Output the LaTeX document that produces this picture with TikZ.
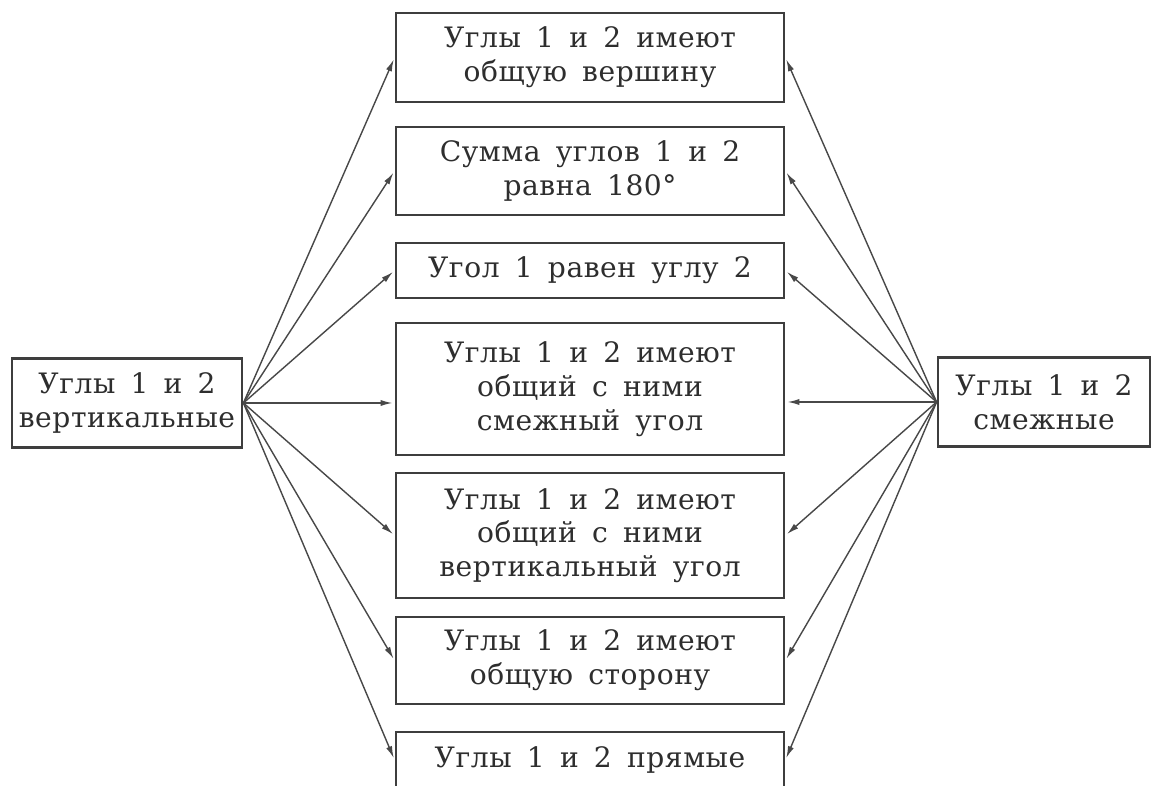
\documentclass[tikz,border=0pt]{standalone}
\usepackage{fontspec}
\setmainfont{DejaVu Serif}[LetterSpace=2,WordSpace=1.6]
\usetikzlibrary{arrows.meta}
\definecolor{inkgray}{HTML}{2E2E2E}
\definecolor{boxgray}{HTML}{3E3E3E}
\definecolor{linegray}{HTML}{484848}
\begin{document}
\begin{tikzpicture}[x=0.025cm,y=-0.025cm,
  box/.style={draw=boxgray, line width=2pt, align=center, inner sep=0pt,
    text=inkgray, font=\fontsize{20}{24}\selectfont},
  sz/.style 2 args={minimum width=#1*0.025cm, minimum height=#2*0.025cm},
  link/.style={draw=linegray, line width=1pt, shorten >=1.5pt,
    -{Latex[length=8.5pt,width=4.4pt]}}]
\clip (0,0) rectangle (1160,786);
\fill[white] (0,0) rectangle (1160,786);

% source boxes
\node[box, sz={230}{89}] (L) at (127,403) {Углы 1 и 2\\вертикальные};
\node[box, sz={212}{89}] (R) at (1044,402) {Углы 1 и 2\\смежные};

% property boxes
\node[box, sz={388}{89}]  (b1) at (590,57.5)  {Углы 1 и 2 имеют\\общую вершину};
\node[box, sz={388}{88}]  (b2) at (590,171)   {Сумма углов 1 и 2\\равна 180°};
\node[box, sz={388}{55}]  (b3) at (590,270.5) {Угол 1 равен углу 2};
\node[box, sz={388}{132}] (b4) at (590,389)   {Углы 1 и 2 имеют\\общий с ними\\смежный угол};
\node[box, sz={388}{125}] (b5) at (590,535.5) {Углы 1 и 2 имеют\\общий с ними\\вертикальный угол};
\node[box, sz={388}{87}]  (b6) at (590,660.5) {Углы 1 и 2 имеют\\общую сторону};
\node[box, sz={388}{56}]  (b7) at (590,760)   {Углы 1 и 2 прямые};

% arrows from the left box
\foreach \b in {b1,b2,b3,b5,b6,b7}
  \draw[link] (L.east) -- (\b.west);
\draw[link] (L.east) -- (L.east -| b4.west);

% arrows from the right box
\foreach \b in {b1,b2,b3,b5,b6,b7}
  \draw[link] (R.west) -- (\b.east);
\draw[link] (R.west) -- (R.west -| b4.east);
\end{tikzpicture}
\end{document}
